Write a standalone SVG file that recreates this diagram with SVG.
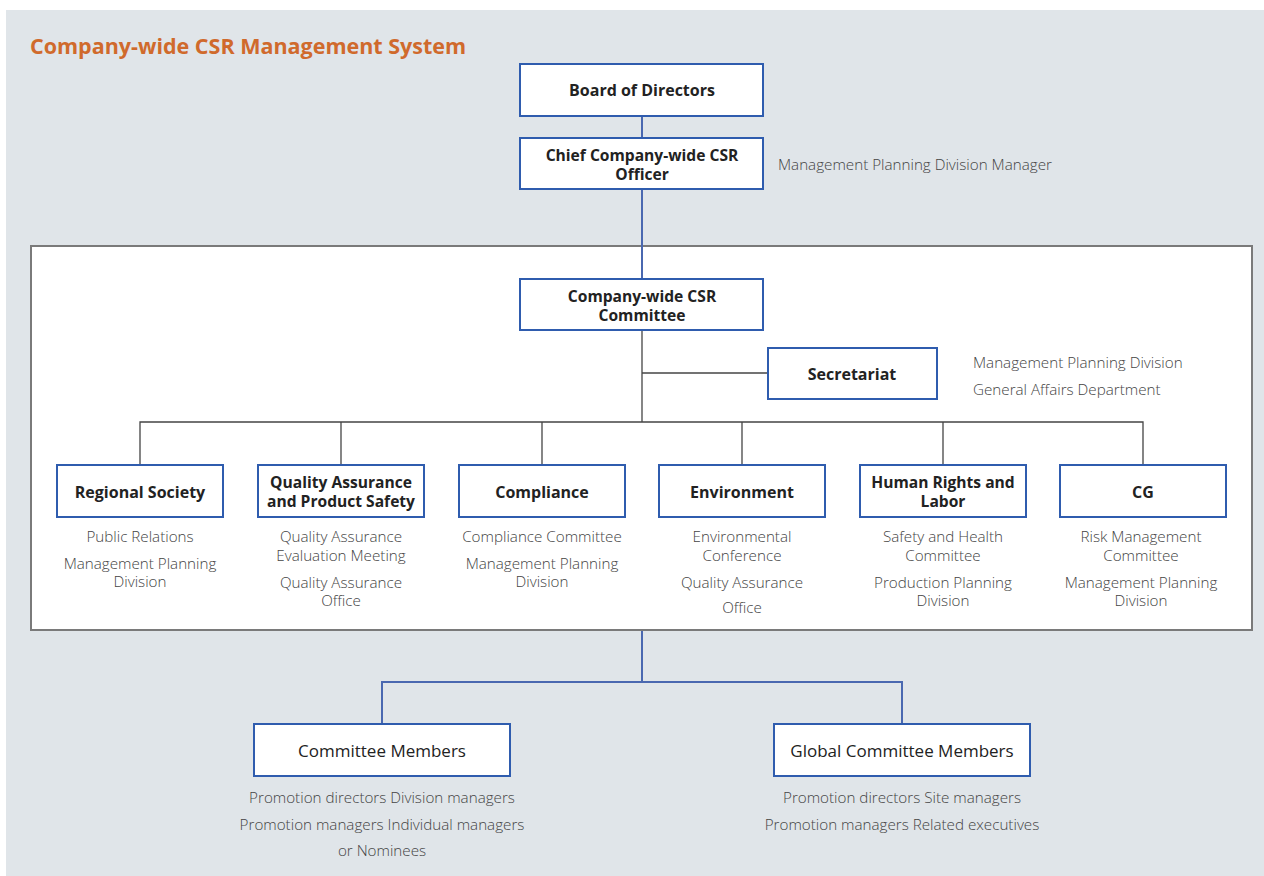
<svg xmlns="http://www.w3.org/2000/svg" width="1264" height="876" viewBox="0 0 1264 876">
<style>
.bg{fill:#e0e5e9}
.panel{fill:#ffffff;stroke:#7a7a7a;stroke-width:2}
.box{fill:#ffffff;stroke:#2f5cae;stroke-width:2}
.cb{stroke:#4a68b0;stroke-width:2;fill:none}
.cg{stroke:#444;stroke-width:1.3;fill:none}
.title{font-family:"Open Sans","Liberation Sans",sans-serif;font-weight:700;font-size:21.5px;fill:#d06a2c}
.b{font-family:"Open Sans","Liberation Sans",sans-serif;font-weight:700;font-size:16px;fill:#222;text-anchor:middle}
.b2{font-family:"Open Sans","Liberation Sans",sans-serif;font-weight:700;font-size:15.6px;fill:#222;text-anchor:middle}
.n{font-family:"Open Sans","Liberation Sans",sans-serif;font-weight:400;font-size:17px;fill:#222;text-anchor:middle}
.s{font-family:"Open Sans","Liberation Sans",sans-serif;font-weight:300;font-size:15.2px;fill:#444;text-anchor:middle}
.sl{font-family:"Open Sans","Liberation Sans",sans-serif;font-weight:300;font-size:15.2px;fill:#444}
</style>
<rect class="bg" x="6" y="10" width="1258" height="866"/>
<text class="title" x="30" y="54">Company-wide CSR Management System</text>
<rect class="panel" x="31" y="246" width="1221" height="384"/>

<g id="connectors">
<line class="cb" x1="642" y1="116" x2="642" y2="138"/>
<line class="cb" x1="642" y1="189" x2="642" y2="279"/>
<line class="cg" x1="642" y1="330" x2="642" y2="422"/>
<line class="cg" x1="642" y1="373" x2="768" y2="373"/>
<polyline class="cg" points="140,465 140,422 1143,422 1143,465"/>
<line class="cg" x1="341" y1="422" x2="341" y2="465"/>
<line class="cg" x1="542" y1="422" x2="542" y2="465"/>
<line class="cg" x1="742" y1="422" x2="742" y2="465"/>
<line class="cg" x1="943" y1="422" x2="943" y2="465"/>
<line class="cb" x1="642" y1="631" x2="642" y2="682"/>
<polyline class="cb" points="382,724 382,682 902,682 902,724"/>
</g>

<g id="board">
<rect class="box" x="520" y="64" width="243" height="52"/>
<text class="b" x="642" y="95.5">Board of Directors</text>
</g>
<g id="chief">
<rect class="box" x="520" y="138" width="243" height="51"/>
<text class="b2" x="642" y="161">Chief Company-wide CSR</text>
<text class="b2" x="642" y="180">Officer</text>
<text class="sl" x="778" y="169.5">Management Planning Division Manager</text>
</g>
<g id="committee">
<rect class="box" x="520" y="279" width="243" height="51"/>
<text class="b2" x="642" y="302">Company-wide CSR</text>
<text class="b2" x="642" y="321">Committee</text>
</g>
<g id="secretariat">
<rect class="box" x="768" y="348" width="169" height="51"/>
<text class="b" x="852" y="379.5">Secretariat</text>
<text class="sl" x="973" y="367.5">Management Planning Division</text>
<text class="sl" x="973" y="394.5">General Affairs Department</text>
</g>

<g id="regional">
<rect class="box" x="57" y="465" width="166" height="52"/>
<text class="b" x="140" y="497.5">Regional Society</text>
<text class="s" x="140" y="541.5">Public Relations</text>
<text class="s" x="140" y="568.5">Management Planning</text>
<text class="s" x="140" y="586.5">Division</text>
</g>
<g id="quality">
<rect class="box" x="258" y="465" width="166" height="52"/>
<text class="b2" x="341" y="488">Quality Assurance</text>
<text class="b2" x="341" y="507">and Product Safety</text>
<text class="s" x="341" y="541.5">Quality Assurance</text>
<text class="s" x="341" y="560.5">Evaluation Meeting</text>
<text class="s" x="341" y="587.5">Quality Assurance</text>
<text class="s" x="341" y="605.5">Office</text>
</g>
<g id="compliance">
<rect class="box" x="459" y="465" width="166" height="52"/>
<text class="b" x="542" y="497.5">Compliance</text>
<text class="s" x="542" y="541.5">Compliance Committee</text>
<text class="s" x="542" y="568.5">Management Planning</text>
<text class="s" x="542" y="586.5">Division</text>
</g>
<g id="environment">
<rect class="box" x="659" y="465" width="166" height="52"/>
<text class="b" x="742" y="497.5">Environment</text>
<text class="s" x="742" y="541.5">Environmental</text>
<text class="s" x="742" y="560.5">Conference</text>
<text class="s" x="742" y="587.5">Quality Assurance</text>
<text class="s" x="742" y="612.5">Office</text>
</g>
<g id="humanrights">
<rect class="box" x="860" y="465" width="166" height="52"/>
<text class="b2" x="943" y="488">Human Rights and</text>
<text class="b2" x="943" y="507">Labor</text>
<text class="s" x="943" y="541.5">Safety and Health</text>
<text class="s" x="943" y="560.5">Committee</text>
<text class="s" x="943" y="587.5">Production Planning</text>
<text class="s" x="943" y="605.5">Division</text>
</g>
<g id="cg">
<rect class="box" x="1060" y="465" width="166" height="52"/>
<text class="b" x="1143" y="497.5">CG</text>
<text class="s" x="1141" y="541.5">Risk Management</text>
<text class="s" x="1141" y="560.5">Committee</text>
<text class="s" x="1141" y="587.5">Management Planning</text>
<text class="s" x="1141" y="605.5">Division</text>
</g>

<g id="members">
<rect class="box" x="254" y="724" width="256" height="52"/>
<text class="n" x="382" y="756.5">Committee Members</text>
<text class="s" x="382" y="802.5">Promotion directors Division managers</text>
<text class="s" x="382" y="829.5">Promotion managers Individual managers</text>
<text class="s" x="382" y="855.5">or Nominees</text>
</g>
<g id="global">
<rect class="box" x="774" y="724" width="256" height="52"/>
<text class="n" x="902" y="756.5">Global Committee Members</text>
<text class="s" x="902" y="802.5">Promotion directors Site managers</text>
<text class="s" x="902" y="829.5">Promotion managers Related executives</text>
</g>
</svg>
